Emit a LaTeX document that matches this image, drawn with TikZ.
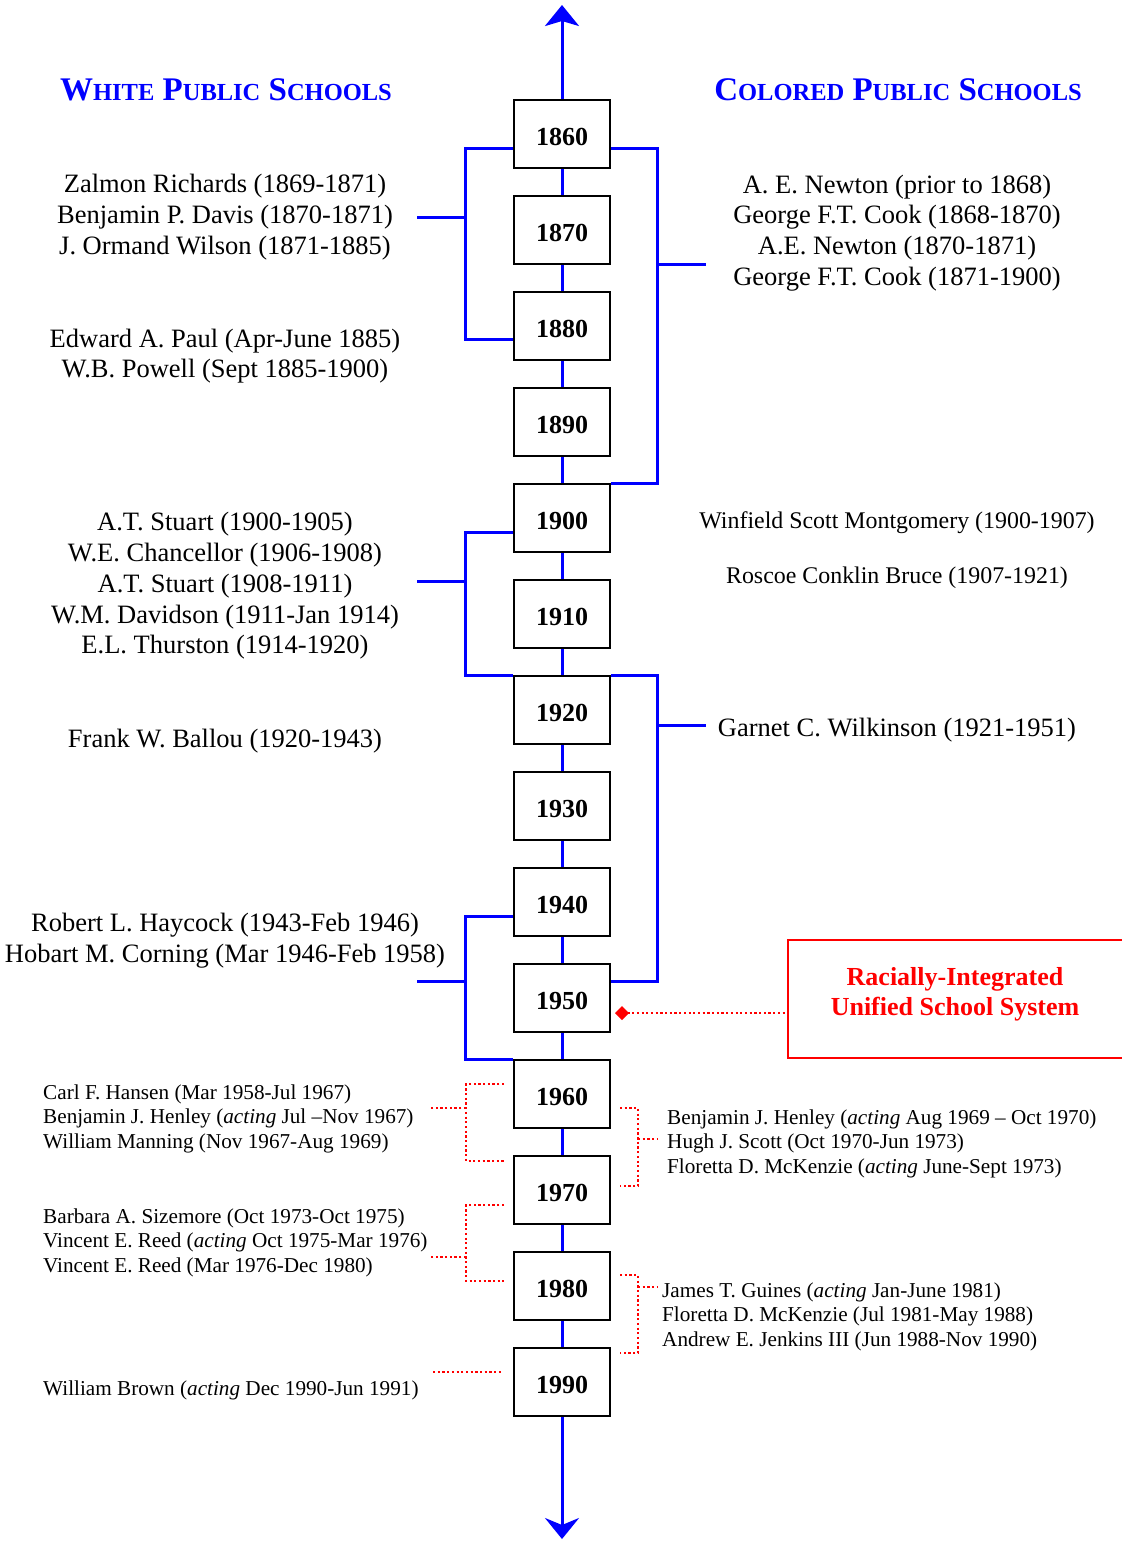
\documentclass[tikz,border=0pt]{standalone}
\usepackage{fontspec}
\setmainfont{Liberation Serif}
\usetikzlibrary{arrows.meta}

\definecolor{tlblue}{RGB}{0,0,255}
\definecolor{tlred}{RGB}{255,0,0}

\newcommand\namesize{\fontsize{26.5}{30.7}\selectfont}
\newcommand\smallnames{\fontsize{21.2}{24.5}\selectfont}
\newcommand\capsmall[1]{{\fontsize{24.5}{30}\selectfont #1}}

\begin{document}
\begin{tikzpicture}[x=1pt,y=-1pt,
  yearbox/.style={draw=black,line width=2pt,fill=white,minimum width=96pt,
    minimum height=68pt,inner sep=0pt,text height=23.6pt,text depth=0pt,
    font=\fontsize{26}{30}\selectfont\bfseries},
  spine/.style={draw=tlblue,line width=3pt},
  dotline/.style={draw=tlred,line width=2.2pt,dash pattern=on 2.2pt off 2.5pt},
  bigname/.style={align=center,inner sep=0pt,font=\namesize},
  smallname/.style={align=left,anchor=west,inner sep=0pt,font=\smallnames},
  header/.style={inner sep=0pt,text=tlblue,font=\fontsize{33}{36}\selectfont\bfseries},
  redframe/.style={draw=tlred,line width=2pt,minimum width=336pt,minimum height=118pt,inner sep=0pt},
  redtitle/.style={align=center,inner sep=0pt,text=tlred,font=\fontsize{26}{30}\selectfont\bfseries}
]
\useasboundingbox (0,0) rectangle (1122,1543);

% column headings
\node[header] (whitehead) at (226,90) {W\capsmall{HITE} P\capsmall{UBLIC} S\capsmall{CHOOLS}};
\node[header] (coloredhead) at (898,90) {C\capsmall{OLORED} P\capsmall{UBLIC} S\capsmall{CHOOLS}};

% decade boxes
\foreach \yr [count=\i from 0] in {1860,1870,...,1990}
  \node[yearbox] (y\yr) at (562,134+96*\i) {\yr};

% timeline between the decades
\foreach \a/\b in {1860/1870,1870/1880,1880/1890,1890/1900,1900/1910,1910/1920,
                   1920/1930,1930/1940,1940/1950,1950/1960,1960/1970,1970/1980,1980/1990}
  \draw[spine] (y\a.south) -- (y\b.north);

\coordinate (topend) at (562,5);
\coordinate (bottomend) at (562,1539);
\draw[spine,-{Stealth[length=21pt,width=34pt,inset=5pt]}] (y1860.north) -- (topend);
\draw[spine,-{Stealth[length=21pt,width=34pt,inset=7pt]}] (y1990.south) -- (bottomend);

% white public schools: superintendents
\node[bigname] (w1) at (225,217) {Zalmon Richards (1869-1871)\\Benjamin P. Davis (1870-1871)\\J. Ormand Wilson (1871-1885)};
\node[bigname] (w2) at (225,356) {Edward A. Paul (Apr-June 1885)\\W.B. Powell (Sept 1885-1900)};
\node[bigname] (w3) at (225,586) {A.T. Stuart (1900-1905)\\W.E. Chancellor (1906-1908)\\A.T. Stuart (1908-1911)\\W.M. Davidson (1911-Jan 1914)\\E.L. Thurston (1914-1920)};
\node[bigname] (w4) at (225,741) {Frank W. Ballou (1920-1943)};
\node[bigname] (w5) at (225,940.5) {Robert L. Haycock (1943-Feb 1946)\\Hobart M. Corning (Mar 1946-Feb 1958)};

% colored public schools: superintendents
\node[bigname] (c1) at (897,233) {A. E. Newton (prior to 1868)\\George F.T. Cook (1868-1870)\\A.E. Newton (1870-1871)\\George F.T. Cook (1871-1900)};
\node[bigname] (c2) at (897,522.5) {\fontsize{23.9}{27}\selectfont Winfield Scott Montgomery (1900-1907)};
\node[bigname] (c3) at (897,577.5) {\fontsize{23.9}{27}\selectfont Roscoe Conklin Bruce (1907-1921)};
\node[bigname] (c4) at (897,730) {Garnet C. Wilkinson (1921-1951)};

% unified system superintendents
\node[smallname] (u1) at (43,1118.5) {Carl F. Hansen (Mar 1958-Jul 1967)\\Benjamin J. Henley (\textit{acting} Jul –Nov 1967)\\William Manning (Nov 1967-Aug 1969)};
\node[smallname] (u2) at (43,1242.5) {Barbara A. Sizemore (Oct 1973-Oct 1975)\\Vincent E. Reed (\textit{acting} Oct 1975-Mar 1976)\\Vincent E. Reed (Mar 1976-Dec 1980)};
\node[smallname] (u3) at (43,1390.5) {William Brown (\textit{acting} Dec 1990-Jun 1991)};
\node[smallname] (u4) at (667,1143.5) {Benjamin J. Henley (\textit{acting} Aug 1969 – Oct 1970)\\Hugh J. Scott (Oct 1970-Jun 1973)\\Floretta D. McKenzie (\textit{acting} June-Sept 1973)};
\node[smallname] (u5) at (662,1316.5) {James T. Guines (\textit{acting} Jan-June 1981)\\Floretta D. McKenzie (Jul 1981-May 1988)\\Andrew E. Jenkins III (Jun 1988-Nov 1990)};

% blue brackets, white side
\coordinate (ws1) at (465,217);  \coordinate (we1) at (417,217);
\coordinate (ws2) at (465,581);  \coordinate (we2) at (417,581);
\coordinate (ws3) at (465,981);  \coordinate (we3) at (417,981);
\draw[spine] ([yshift=-14pt]y1860.west) -| (ws1) |- ([yshift=-13pt]y1880.west);
\draw[spine] (ws1) -- (we1);
\draw[spine] ([yshift=-14pt]y1900.west) -| (ws2) |- (y1920.north west);
\draw[spine] (ws2) -- (we2);
\draw[spine] ([yshift=-14pt]y1940.west) -| (ws3) |- (y1960.north west);
\draw[spine] (ws3) -- (we3);

% blue brackets, colored side
\coordinate (cs1) at (657,264);  \coordinate (ce1) at (706,264);
\coordinate (cs2) at (657,725);  \coordinate (ce2) at (706,725);
\draw[spine] ([yshift=-14pt]y1860.east) -| (cs1) |- (y1900.north east);
\draw[spine] (cs1) -- (ce1);
\draw[spine] (y1920.north east) -| (cs2) |- ([yshift=17pt]y1950.east);
\draw[spine] (cs2) -- (ce2);

% red dotted brackets, unified period
\coordinate (rl1a) at (504,1084); \coordinate (rl1s) at (466,1108);
\coordinate (rl1b) at (504,1161); \coordinate (rl1e) at (429,1108);
\coordinate (rl2a) at (504,1205); \coordinate (rl2s) at (466,1257);
\coordinate (rl2b) at (504,1281); \coordinate (rl2e) at (429,1257);
\coordinate (rr1a) at (620,1108); \coordinate (rr1s) at (638,1139);
\coordinate (rr1b) at (620,1186); \coordinate (rr1e) at (658,1139);
\coordinate (rr2a) at (620,1275); \coordinate (rr2s) at (638,1287);
\coordinate (rr2b) at (620,1353); \coordinate (rr2e) at (658,1287);
\coordinate (rsa) at (433,1372);  \coordinate (rsb) at (502,1372);
\draw[dotline] (rl1a) -| (rl1s) |- (rl1b);  \draw[dotline] (rl1s) -- (rl1e);
\draw[dotline] (rl2a) -| (rl2s) |- (rl2b);  \draw[dotline] (rl2s) -- (rl2e);
\draw[dotline] (rr1a) -| (rr1s) |- (rr1b);  \draw[dotline] (rr1s) -- (rr1e);
\draw[dotline] (rr2a) -| (rr2s) |- (rr2b);  \draw[dotline] (rr2s) -- (rr2e);
\draw[dotline] (rsa) -- (rsb);

% unified school system marker
\node[redframe] (unified) at (956,999) {};
\node[redtitle] (unifiedtext) at (955,994) {Racially-Integrated\\Unified School System};
\coordinate (dmd) at (615,1013);
\draw[dotline,{Diamond[length=14pt,width=14pt]}-] (dmd) -- (unified.west |- dmd);

\end{tikzpicture}
\end{document}
